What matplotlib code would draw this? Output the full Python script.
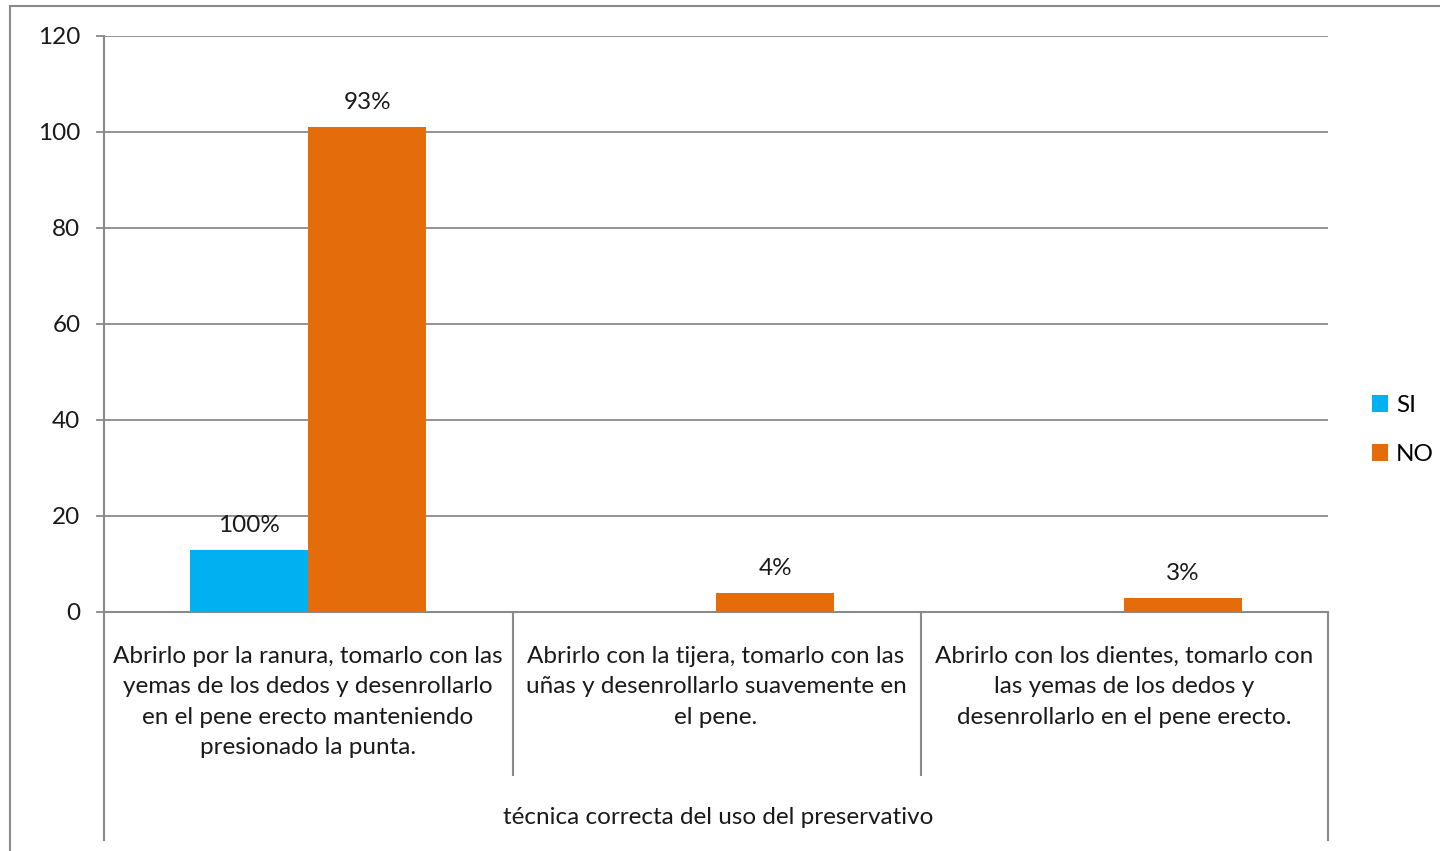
import matplotlib
matplotlib.use("Agg")
import matplotlib.pyplot as plt
import matplotlib.transforms as mtransforms
from matplotlib.lines import Line2D
import numpy as np

categories = [
    "Abrirlo por la ranura, tomarlo con las\nyemas de los dedos y desenrollarlo\nen el pene erecto manteniendo\npresionado la punta.",
    "Abrirlo con la tijera, tomarlo con las\nuñas y desenrollarlo suavemente en\nel pene.",
    "Abrirlo con los dientes, tomarlo con\nlas yemas de los dedos y\ndesenrollarlo en el pene erecto.",
]
si_values = [13, 0, 0]
no_values = [101, 4, 3]
si_labels = ["100%", "", ""]
no_labels = ["93%", "4%", "3%"]
yticks = [0, 20, 40, 60, 80, 100, 120]
axis_title = "técnica correcta del uso del preservativo"

plt.rcParams['font.family'] = ['Lato', 'DejaVu Sans']

W, H = 1440, 851
fig = plt.figure(figsize=(W / 100, H / 100), dpi=100)
fig.patch.set_facecolor("white")

def fx(px):
    return px / W

def fy(py):
    return 1 - py / H

left, right, top, bottom = 104, 1328, 36, 612
ax = fig.add_axes([fx(left), fy(bottom), fx(right) - fx(left), fy(top) - fy(bottom)])

gray = "#8a8a8a"
si_color = "#00b0f0"
no_color = "#e46c0a"
txt = "#1a1a1a"
fs = 17.5

x = np.arange(len(categories))
bw = 0.29
b1 = ax.bar(x - bw / 2, si_values, bw, color=si_color, label="SI", zorder=3)
b2 = ax.bar(x + bw / 2, no_values, bw, color=no_color, label="NO", zorder=3)

for bars, labs in ((b1, si_labels), (b2, no_labels)):
    for rect, lab in zip(bars, labs):
        if lab:
            ax.annotate(lab, (rect.get_x() + rect.get_width() / 2, rect.get_height()),
                        xytext=(0, 10), textcoords="offset points",
                        ha="center", va="bottom", fontsize=fs, color=txt)

ax.set_xlim(-0.5, len(categories) - 0.5)
ax.set_ylim(0, 120)
ax.set_yticks(yticks)
ax.set_yticklabels([str(v) for v in yticks], fontsize=fs, color=txt)
ax.tick_params(axis="y", length=6, width=1.3, color=gray, pad=11)
ax.set_xticks([])
ax.yaxis.grid(True, color=gray, linewidth=1.3, zorder=0)
ax.set_axisbelow(True)
for s in ("top", "right"):
    ax.spines[s].set_visible(False)
for s in ("left", "bottom"):
    ax.spines[s].set_color(gray)
    ax.spines[s].set_linewidth(1.5)

# category labels
trans = mtransforms.blended_transform_factory(ax.transData, fig.transFigure)
for i, cat in enumerate(categories):
    ax.text(i, fy(646), cat, transform=trans,
            ha="center", va="top", fontsize=fs, color=txt, linespacing=1.55)

fig.text(fx(718), fy(818), axis_title, ha="center", va="center", fontsize=fs, color=txt)

# category divider lines
div_x = [104, 513, 921, 1328]
for i, dx in enumerate(div_x):
    yb = 840 if i in (0, len(div_x) - 1) else 775
    fig.add_artist(Line2D([fx(dx), fx(dx)], [fy(612), fy(yb)], color=gray, linewidth=1.5))

# outer frame
fig.add_artist(Line2D([fx(10), fx(10)], [fy(6), fy(851)], color=gray, linewidth=1.5))
fig.add_artist(Line2D([fx(10), fx(1440)], [fy(6), fy(6)], color=gray, linewidth=1.5))

fig.legend(handles=[b1, b2], labels=["SI", "NO"], loc="center left",
           bbox_to_anchor=(fx(1350), fy(430)), frameon=False, fontsize=fs,
           handlelength=0.65, handleheight=0.65, handletextpad=0.35, labelspacing=1.15)

fig.savefig("out.png", dpi=100, facecolor="white")
